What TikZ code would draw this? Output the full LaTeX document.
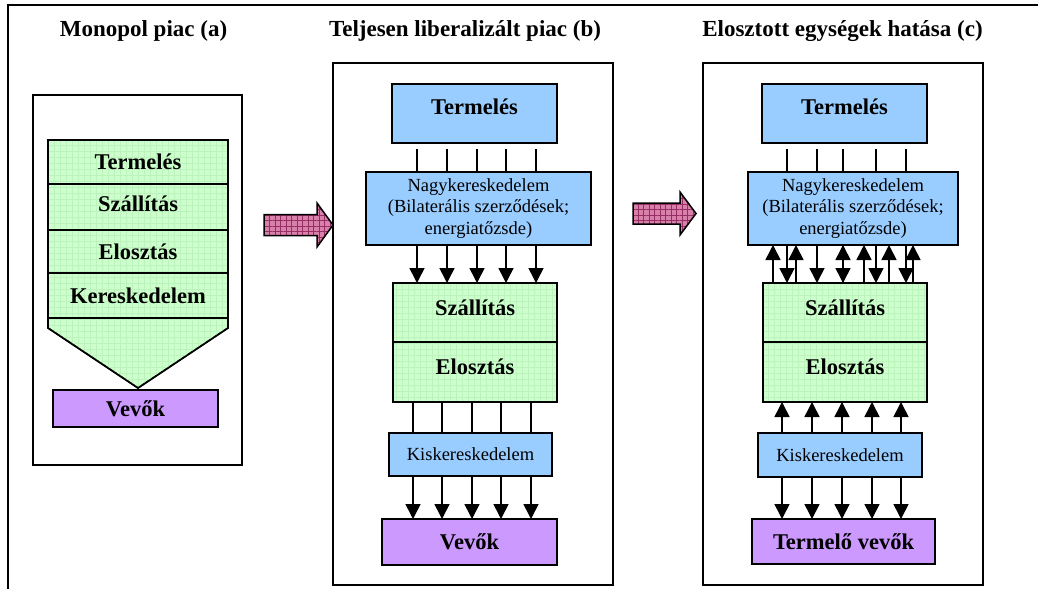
\documentclass[tikz,border=0pt]{standalone}
\usepackage{fontspec}
\setmainfont{Liberation Serif}
\usetikzlibrary{arrows.meta,patterns.meta}
\definecolor{boxblue}{RGB}{153,204,255}
\definecolor{boxgreen}{RGB}{204,255,204}
\definecolor{gridgreen}{RGB}{188,243,188}
\definecolor{boxpurple}{RGB}{204,153,255}
\definecolor{arrowpink}{RGB}{214,128,170}
\definecolor{gridpink}{RGB}{150,45,100}
\begin{document}
\begin{tikzpicture}[x=1pt,y=-1pt,
  panel/.style={draw, line width=1.3pt, inner sep=0pt, outer sep=0pt},
  box/.style={draw, line width=1.6pt, inner sep=0pt, outer sep=0pt},
  bluebox/.style={box, fill=boxblue},
  purplebox/.style={box, fill=boxpurple},
  greenbox/.style={box, fill=boxgreen,
    postaction={pattern={Hatch[angle=0,distance=6pt,line width=0.5pt]}, pattern color=gridgreen},
    postaction={draw, line width=1.6pt}},
  pinkarrow/.style={fill=arrowpink, line width=1.5pt, line join=miter,
    postaction={pattern={Hatch[angle=0,distance=5.5pt,line width=0.7pt]}, pattern color=gridpink},
    postaction={draw, line width=1.5pt}},
  title/.style={font=\bfseries\fontsize{23}{27}\selectfont},
  bold/.style={font=\bfseries\fontsize{22.5}{26}\selectfont},
  plain/.style={font=\fontsize{18.5}{21.6}\selectfont, align=center},
  link/.style={line width=1.6pt},
  flow/.style={line width=1.6pt, -{Triangle[length=15pt,width=15pt]}}
]
\useasboundingbox (0,0) rectangle (1038,589);

% cropped outer frame
\draw[line width=2.4pt] (8,589) -- (8,5) -- (1038,5);

% column titles
\node[title] (ta) at (143.5,31) {Monopol piac (a)};
\node[title] (tb) at (465,31) {Teljesen liberalizált piac (b)};
\node[title] (tc) at (842.5,31) {Elosztott egységek hatása (c)};

% ---------- (a) monopoly ----------
\node[panel, minimum width=209pt, minimum height=370pt] (pa) at (137.5,280) {};
\path[greenbox] (48,318) -- (228,318) -- (228,328) -- (138,388) -- (48,328) -- cycle;
\node[greenbox, minimum width=180pt, minimum height=44pt] (a1) at (138,162) {};
\node[greenbox, minimum width=180pt, minimum height=46pt] (a2) at (138,207) {};
\node[greenbox, minimum width=180pt, minimum height=43pt] (a3) at (138,251.5) {};
\node[greenbox, minimum width=180pt, minimum height=45pt] (a4) at (138,295.5) {};
\node[bold] (a1t) at (a1) {Termelés};
\node[bold] (a2t) at (138,204) {Szállítás};
\node[bold] (a3t) at (a3) {Elosztás};
\node[bold] (a4t) at (a4) {Kereskedelem};
\node[purplebox, minimum width=165pt, minimum height=37pt] (av) at (135.5,408.5) {};
\node[bold] (avt) at (av) {Vevők};

% ---------- (b) liberalised market ----------
\node[panel, minimum width=280pt, minimum height=522pt] (pb) at (473,324) {};
\node[bluebox, minimum width=165pt, minimum height=59pt] (bt) at (474.5,113.5) {};
\node[bold] (btt) at (474.5,107) {Termelés};
\node[bluebox, minimum width=225pt, minimum height=73pt] (bn) at (478.5,208.5) {};
\node[plain] (bnt) at (bn) {Nagykereskedelem\\(Bilaterális szerződések;\\energiatőzsde)};
\node[greenbox, minimum width=164pt, minimum height=59pt] (bs) at (475,312.5) {};
\node[greenbox, minimum width=164pt, minimum height=60pt] (be) at (475,372) {};
\node[bold] (bst) at (475,308) {Szállítás};
\node[bold] (bet) at (475,367) {Elosztás};
\node[bluebox, minimum width=163pt, minimum height=43pt] (bk) at (470.5,454.5) {};
\node[plain] (bkt) at (bk) {Kiskereskedelem};
\node[purplebox, minimum width=175pt, minimum height=46pt] (bv) at (469.5,542) {};
\node[bold] (bvt) at (bv) {Vevők};

\foreach \x in {417,447,477,506,536} {
  \draw[link] (bt.south -| \x,0) ++(0,6) -- (bn.north -| \x,0);
  \draw[flow] (bn.south -| \x,0) -- (bs.north -| \x,0);
}
\foreach \x in {413,442,472,501,531} {
  \draw[link] (be.south -| \x,0) -- (bk.north -| \x,0);
  \draw[flow] (bk.south -| \x,0) -- (bv.north -| \x,0);
}

% ---------- (c) distributed generation ----------
\node[panel, minimum width=280pt, minimum height=522pt] (pc) at (843,324) {};
\node[bluebox, minimum width=165pt, minimum height=59pt] (ct) at (844.5,113.5) {};
\node[bold] (ctt) at (844.5,107) {Termelés};
\node[bluebox, minimum width=210pt, minimum height=73pt] (cn) at (853,208.5) {};
\node[plain] (cnt) at (cn) {Nagykereskedelem\\(Bilaterális szerződések;\\energiatőzsde)};
\node[greenbox, minimum width=164pt, minimum height=59pt] (cs) at (845,312.5) {};
\node[greenbox, minimum width=164pt, minimum height=60pt] (ce) at (845,372) {};
\node[bold] (cst) at (845,308) {Szállítás};
\node[bold] (cet) at (845,367) {Elosztás};
\node[bluebox, minimum width=164pt, minimum height=44pt] (ck) at (840,455) {};
\node[plain] (ckt) at (ck) {Kiskereskedelem};
\node[purplebox, minimum width=183pt, minimum height=45pt] (cv) at (843.5,541.5) {};
\node[bold] (cvt) at (cv) {Termelő vevők};

\foreach \x in {787,817,843,876,906} {
  \draw[link] (ct.south -| \x,0) ++(0,6) -- (cn.north -| \x,0);
  \draw[flow] (cn.south -| \x,0) -- (cs.north -| \x,0);
}
\foreach \x in {773,796,843,864,889,913} {
  \draw[flow] (cs.north -| \x,0) -- (cn.south -| \x,0);
}
\foreach \x in {782,812,842,872,901} {
  \draw[flow] (ck.north -| \x,0) -- (ce.south -| \x,0);
  \draw[flow] (ck.south -| \x,0) -- (cv.north -| \x,0);
}

% transition arrows between the columns
\path[pinkarrow] (264,214.5) -- (317,214.5) -- (317,203) -- (333,225) -- (317,247) -- (317,235.5) -- (264,235.5) -- cycle;
\path[pinkarrow] (633,203) -- (680,203) -- (680,192) -- (696,213.5) -- (680,235) -- (680,224) -- (633,224) -- cycle;
\end{tikzpicture}
\end{document}
